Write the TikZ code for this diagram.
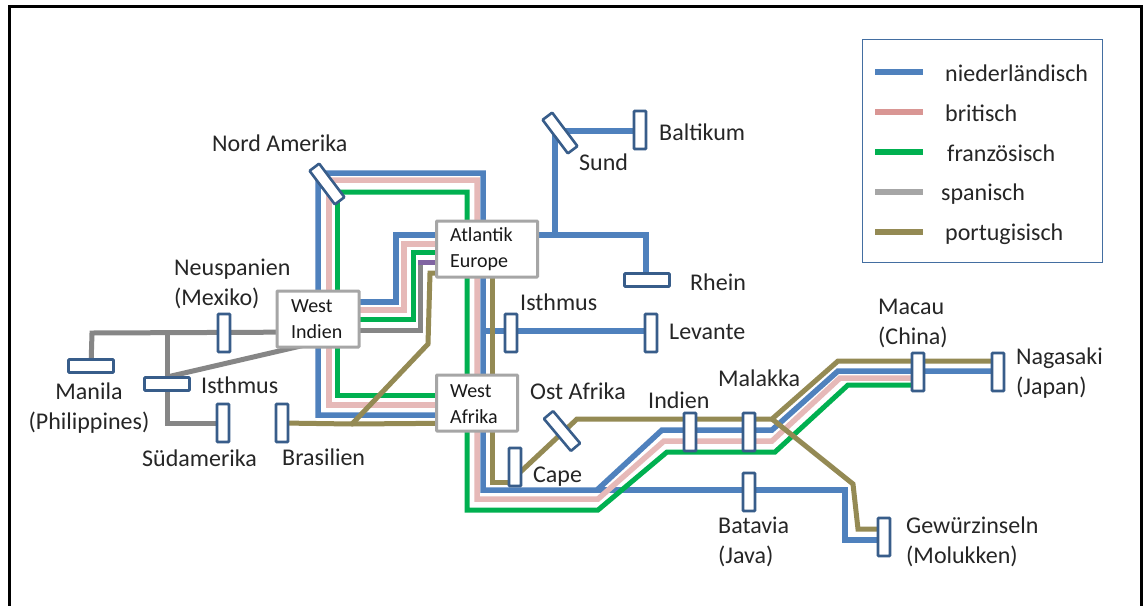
\documentclass[tikz,border=0pt]{standalone}
\usepackage{fontspec}
\setmainfont{Carlito}
\pgfdeclarelayer{lines}
\pgfsetlayers{lines,main}
\definecolor{cdutch}{HTML}{4F81BD}
\definecolor{cbrit}{HTML}{E6B9B8}
\definecolor{cbritleg}{HTML}{D99694}
\definecolor{cfrench}{HTML}{00B050}
\definecolor{cspan}{HTML}{868686}
\definecolor{cspanleg}{HTML}{A6A6A6}
\definecolor{cport}{HTML}{948A54}
\definecolor{cpurple}{HTML}{8064A2}
\definecolor{cbar}{HTML}{385D8A}
\definecolor{cbox}{HTML}{A6A6A6}
\tikzset{
  x=1pt,y=-1pt,
  dutch/.style={draw=cdutch,line width=5.5pt},
  brit/.style={draw=cbrit,line width=5.5pt},
  french/.style={draw=cfrench,line width=5pt},
  span/.style={draw=cspan,line width=5pt},
  port/.style={draw=cport,line width=5pt},
  legline/.style={line width=5.5pt},
  hub/.style={draw=cbox,fill=white,line width=3pt,minimum width=#1,minimum height=56pt,inner sep=0pt,rounded corners=0.8pt},
  stop/.style={draw=cbar,fill=white,line width=2.6pt,minimum width=12pt,minimum height=38pt,inner sep=0pt,rounded corners=0.8pt},
  hstop/.style={stop,rotate=90,minimum height=45pt,minimum width=13pt},
  lab/.style={anchor=west,inner sep=0pt,font=\fontsize{24}{30}\selectfont,align=left,text=black!85},
  clab/.style={lab,anchor=center,align=center},
  hubtext/.style={anchor=west,inner sep=0pt,font=\fontsize{20}{26}\selectfont,align=left,text=black!90},
}
\begin{document}
\begin{tikzpicture}
\useasboundingbox (0,0) rectangle (1143,606);
% frame
\fill[black] (8,5) rectangle (1143,8);
\fill[black] (8,5) rectangle (11,606);
\fill[black] (1140,5) rectangle (1143,606);
% hubs
\node[hub=101pt] (atl) at (487,249) {};
\node[hub=82pt] (wi) at (318,319) {};
\node[hub=81pt] (waf) at (477,403) {};
\node[hubtext] (atlt) at (450,249) {Atlantik\\Europe};
\node[hubtext] (wit) at (291,319) {West\\Indien};
\node[hubtext] (waft) at (450,404) {West\\Afrika};
% stops
\node[stop,rotate=37,minimum height=42pt] (nam) at (327,184) {};
\node[stop,rotate=37,minimum height=42pt] (sund) at (560,133) {};
\node[stop] (balt) at (640,130) {};
\node[hstop] (rhein) at (647,280) {};
\node[stop] (ist) at (511,333) {};
\node[stop] (lev) at (651,333) {};
\node[stop] (neu) at (224,333) {};
\node[hstop] (man) at (91,366) {};
\node[hstop] (isw) at (167,384) {};
\node[stop] (sud) at (223,423) {};
\node[stop] (bra) at (282,423) {};
\node[stop] (cap) at (515,467) {};
\node[stop,rotate=40,minimum height=42pt] (ost) at (562,431) {};
\node[stop] (ind) at (690,432) {};
\node[stop] (mal) at (749,432) {};
\node[stop] (bat) at (749,492) {};
\node[stop] (gew) at (884,537) {};
\node[stop] (mac) at (918,372) {};
\node[stop] (nag) at (998,372) {};
% junctions
\coordinate (jb) at (555,235);
\coordinate (jc) at (597,490);
\coordinate (jd) at (772,419);
\coordinate (je) at (352,424);
\coordinate (jf) at (167,333);
\coordinate (jg) at (92,333);
\coordinate (jh) at (167,377);
\begin{pgfonlayer}{lines}
\fill[white] (0,0) rectangle (1143,606);
% Dutch
\draw[dutch] (nam.center) -- (318,173) -- (483,173) -- (483,490) -- (jc) -- (662,430) -- (772,430) -- (838,371) -- (nag.center |- 0,371);
\draw[dutch] (nam.center) -- (318,173) -- (318,415) -- (waf.center |- 0,415);
\draw[dutch] (wi.center |- 0,302) -- (396,302) -- (396,235) -- (atl.center |- 0,235);
\draw[dutch] (atl.center |- 0,235) -- (646,235) -- (646,280) -- (rhein.center);
\draw[dutch] (jb) -- (555,131) -- (balt.center |- 0,131);
\draw[dutch] (483,331) -- (ist.center |- 0,331) -- (lev.center |- 0,331);
\draw[dutch] (jc) -- (bat.center |- 0,490) -- (845,490) -- (845,540) -- (gew.center |- 0,540);
% British
\draw[brit] (nam.center) -- (329,180) -- (477,180) -- (477,499) -- (598,499) -- (664,441) -- (772,441) -- (840,378) -- (mac.center |- 0,378);
\draw[brit] (329,180) -- (329,405) -- (waf.center |- 0,405);
\draw[brit] (wi.center |- 0,310) -- (404,310) -- (404,244) -- (atl.center |- 0,244);
% French
\draw[french] (nam.center) -- (337,192) -- (467,192) -- (467,510) -- (598,510) -- (667,452) -- (775,452) -- (848,385) -- (mac.center |- 0,385);
\draw[french] (337,192) -- (337,395) -- (waf.center |- 0,395);
\draw[french] (wi.center |- 0,319) -- (413,319) -- (413,252) -- (atl.center |- 0,252);
% Spanish
\draw[span] (wi.center |- 0,330) -- (420,330) -- (420,262);
\draw[cpurple,line width=5pt] (418,262) -- (atl.center |- 0,262);
\draw[span] (wi.center |- 0,332) -- (jg) -- (man.center);
\draw[span] (jf) -- (167,423) -- (sud.center);
\draw[span] (jh) -- (wi.center |- 0,342);
% Portuguese
\draw[port] (bra.center) -- (je) -- (waf.center |- 0,423);
\draw[port] (je) -- (428,344) -- (430,273) -- (atl.center |- 0,273);
\draw[port] (atl.center -| 492,0) -- (492,482) -- (cap.center |- 0,482);
\draw[port] (cap.center |- 0,477) -- (577,419) -- (jd) -- (838,361) -- (nag.center |- 0,361);
\draw[port] (jd) -- (853,484) -- (858,529) -- (gew.center |- 0,529);
\end{pgfonlayer}
% labels
\node[lab] (lnam) at (212,143) {Nord Amerika};
\node[lab] (lbalt) at (659,132) {Baltikum};
\node[lab] (lsund) at (579,162) {Sund};
\node[lab] (lrhein) at (690,282) {Rhein};
\node[lab] (lneu) at (174,284) {Neuspanien\\(Mexiko)};
\node[lab] (list) at (520,302) {Isthmus};
\node[lab] (llev) at (669,332) {Levante};
\node[lab] (lmac) at (878,323) {Macau\\(China)};
\node[lab] (lnag) at (1016,373) {Nagasaki\\(Japan)};
\node[lab] (lmal) at (718,378) {Malakka};
\node[lab] (lind) at (648,400) {Indien};
\node[lab] (lost) at (530,391) {Ost Afrika};
\node[lab] (lcap) at (533,477) {Cape};
\node[clab] (lman) at (89,408) {Manila\\(Philippines)};
\node[lab] (lisw) at (201,385) {Isthmus};
\node[lab] (lsud) at (142,458) {Südamerika};
\node[lab] (lbra) at (282,457) {Brasilien};
\node[lab] (lbat) at (718,542) {Batavia\\(Java)};
\node[lab] (lgew) at (906,542) {Gewürzinseln\\(Molukken)};
% legend
\node[draw=cdutch!85!black,line width=1.4pt,fill=white,minimum width=240pt,minimum height=223pt,inner sep=0pt] (leg) at (982.5,151) {};
\node[lab] (t1) at (945,73) {niederländisch};
\node[lab] (t2) at (945,113) {britisch};
\node[lab] (t3) at (947,153) {französisch};
\node[lab] (t4) at (941,194) {spanisch};
\node[lab] (t5) at (945,234) {portugisisch};
\coordinate (s1) at (875,72); \coordinate (e1) at (923,72);
\coordinate (s2) at (875,112); \coordinate (e2) at (923,112);
\coordinate (s3) at (875,152); \coordinate (e3) at (923,152);
\coordinate (s4) at (875,192); \coordinate (e4) at (923,192);
\coordinate (s5) at (875,232); \coordinate (e5) at (923,232);
\draw[legline,draw=cdutch] (s1) -- (e1);
\draw[legline,draw=cbritleg] (s2) -- (e2);
\draw[legline,draw=cfrench] (s3) -- (e3);
\draw[legline,draw=cspanleg] (s4) -- (e4);
\draw[legline,draw=cport] (s5) -- (e5);
\end{tikzpicture}
\end{document}
